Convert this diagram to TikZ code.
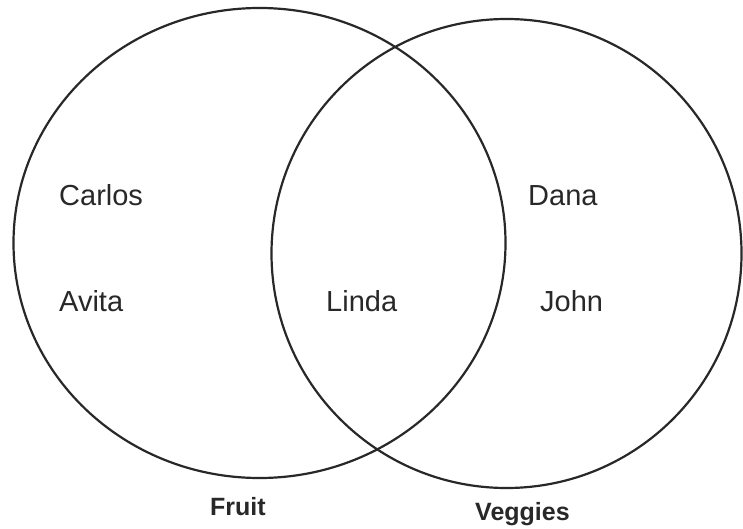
\documentclass[tikz,border=0pt]{standalone}
\usepackage{fontspec}
\setmainfont{Liberation Sans}
\usepackage{tikz}
\definecolor{mydark}{RGB}{40,40,40}
\tikzset{
  setline/.style={draw=mydark, line width=2.2pt},
  person/.style={anchor=base west, inner sep=0pt, color=mydark,
    font=\fontsize{29}{34}\selectfont},
  setname/.style={anchor=base west, inner sep=0pt, color=mydark,
    font=\fontsize{25}{30}\selectfont\bfseries}
}

\begin{document}
\begin{tikzpicture}[x=1pt,y=-1pt]
  \useasboundingbox (0,0) rectangle (743,529);
  % Fruit set
  \draw[setline] (259.5,243) ellipse [x radius=246, y radius=235];
  % Veggies set
  \draw[setline] (506.5,253.5) ellipse [x radius=235, y radius=234.5];
  % Fruit only
  \node[person] (carlos) at (59,206) {Carlos};
  \node[person] (avita) at (59,311) {Avita};
  % Both
  \node[person] (linda) at (326,311) {Linda};
  % Veggies only
  \node[person] (dana) at (528,206) {Dana};
  \node[person] (john) at (540,311) {John};
  % Set labels
  \node[setname] (fruit) at (210,515) {Fruit};
  \node[setname] (veggies) at (475,520) {Veggies};
\end{tikzpicture}
\end{document}
